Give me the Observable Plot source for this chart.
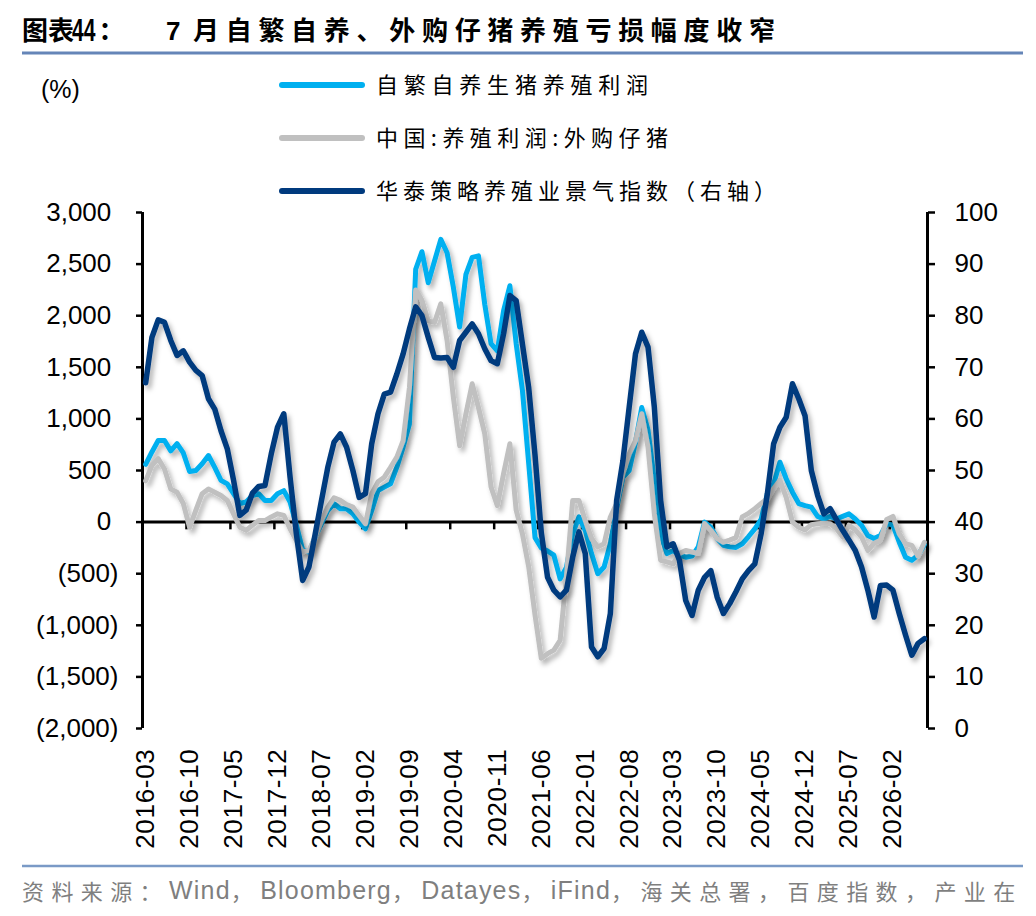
<!DOCTYPE html>
<html>
<head>
<meta charset="utf-8">
<script src="https://cdn.jsdelivr.net/npm/d3@7"></script>
<script src="https://cdn.jsdelivr.net/npm/@observablehq/plot@0.6"></script>
<style>
  html, body { margin: 0; padding: 0; background: #fff; }
  #page { position: relative; width: 1036px; height: 916px; overflow: hidden; background: #fff; }
  #page > * { position: absolute; left: 0; }
  .cjk { font-family: "Noto Sans CJK SC", "Noto Sans", sans-serif; }
  .lat { font-family: "Liberation Sans", Arial, sans-serif; }
  .sp { letter-spacing: 7.4px; }
  .lsp { letter-spacing: 1.2px; }
  #chart g[aria-label="x-axis tick label"] text { letter-spacing: 0.7px; }
</style>
</head>
<body>
<div id="page">
  <svg id="header" width="1036" height="220" style="top:0">
    <g font-weight="700" fill="#000">
      <text class="cjk" x="22" y="40" font-size="26">图表</text>
      <text class="lat" font-size="31" transform="translate(72,41) scale(0.68,1)">44</text>
      <text class="cjk" x="98.5" y="40" font-size="26">：</text>
      <text class="lat" x="166" y="40" font-size="26">7</text>
      <text class="cjk" x="193" y="40" font-size="26" textLength="582" lengthAdjust="spacing">月自繁自养、外购仔猪养殖亏损幅度收窄</text>
    </g>
    <line x1="22" x2="1023" y1="53" y2="53" stroke="#6585b8" stroke-width="3"></line>
    <text x="41" y="98" font-size="25" class="lat" fill="#000">(%)</text>
    <g id="legend"></g>
  </svg>
  <div id="chart" style="top:190px"></div>
  <svg id="footer" width="1036" height="58" style="top:858px">
    <line x1="22" x2="1023" y1="8" y2="8" stroke="#7a9ac6" stroke-width="2.5"></line>
    <text x="22" y="32" dominant-baseline="central" fill="#7f7f7f" font-size="22" class="cjk"><tspan class="sp">资料来源：</tspan><tspan class="lat lsp" font-size="25">Wind</tspan><tspan class="sp">，</tspan><tspan class="lat lsp" font-size="25">Bloomberg</tspan><tspan class="sp">，</tspan><tspan class="lat lsp" font-size="25">Datayes</tspan><tspan class="sp">，</tspan><tspan class="lat lsp" font-size="25">iFind</tspan><tspan class="sp">，海关总署，百度指数，产业在</tspan></text>
  </svg>
</div>
<script>
// ---- data (monthly, 2016-03 .. 2026-07) ----
const months = d3.utcMonth
  .range(new Date(Date.UTC(2016, 2, 1)), new Date(Date.UTC(2026, 7, 1)))
  .map(d3.utcFormat("%Y-%m"));

// 自繁自养生猪养殖利润 (left axis, 元/头)
const selfBredProfit = [
  560, 680, 790, 790, 690, 760, 670, 490, 500, 565, 645, 530, 405, 370, 275, 180, 195, 258, 275, 210,
  210, 275, 305, 195, -30, -270, -290, -145, -16, 113, 178, 130, 130, 81, 0, -65, 113, 307, 339, 371,
  532, 726, 950, 2450, 2620, 2320, 2530, 2740, 2610, 2275, 1890, 2400, 2565, 2580, 2110, 1730, 1660, 2050, 2290, 1730,
  1275, 565, -150, -250, -280, -320, -550, -440, -115, 50, -80, -305, -500, -435, -210, 130, 435, 500, 775, 1110,
  890, 405, -115, -305, -275, -320, -340, -330, -240, 0, -50, -160, -225, -240, -245, -210, -140, -65, 25, 275,
  370, 580, 420, 290, 180, 160, 145, 55, 30, 55, 30, 55, 80, 30, -30, -130, -160, -130, -15, -30,
  -195, -340, -370, -320, -220
];

// 中国:养殖利润:外购仔猪 (left axis)
const purchasedPigletProfit = [
  400, 550, 615, 515, 320, 290, 180, -50, 115, 275, 320, 290, 258, 210, 80, -50, -80, -30, 15, 15,
  50, 80, 65, -65, -180, -290, -275, -145, 15, 145, 235, 210, 170, 145, 65, -15, 275, 390, 435, 530,
  630, 790, 1300, 2250, 2150, 1950, 1935, 2115, 1760, 1210, 740, 1050, 1340, 1110, 855, 340, 160, 470, 760, 115,
  -115, -435, -900, -1320, -1275, -1240, -1145, -530, 210, 210, 15, -160, -240, -210, 50, 180, 470, 660, 790, 1050,
  725, 80, -370, -385, -405, -305, -275, -290, -305, -15, -80, -160, -195, -175, -150, 50, 85, 130, 180, 225,
  325, 405, 240, 0, -50, -75, -25, -15, -10, -15, -65, -145, -30, -75, -145, -275, -205, -175, 25, 55,
  -115, -210, -225, -330, -195
];

// 华泰策略养殖业景气指数 (right axis)
const prosperityIndex = [
  67.0, 75.8, 79.2, 78.7, 75.2, 72.3, 73.2, 71.0, 69.4, 68.4, 63.9, 61.9, 57.7, 54.2, 48.1, 41.3, 42.3, 45.6, 46.9, 47.1,
  53.2, 58.4, 61.0, 48.7, 37.7, 28.7, 31.3, 37.7, 44.2, 50.6, 55.5, 57.1, 54.5, 50.0, 44.8, 45.5, 55.2, 61.0, 64.8, 65.2,
  68.7, 72.6, 77.4, 81.7, 80.0, 75.8, 71.9, 71.8, 71.9, 70.0, 75.2, 76.8, 78.4, 76.5, 73.6, 71.3, 70.7, 76.5, 83.9, 82.9,
  74.5, 66.0, 53.0, 38.0, 29.3, 26.8, 25.5, 26.8, 33.2, 38.1, 33.9, 15.8, 13.9, 15.5, 22.3, 44.2, 51.9, 62.3, 72.6, 76.8,
  73.9, 62.3, 44.2, 35.2, 35.8, 32.6, 24.8, 21.9, 26.8, 29.3, 30.6, 25.5, 22.3, 24.2, 26.5, 29.0, 30.6, 31.9, 37.7, 45.5,
  55.2, 58.4, 60.3, 66.8, 63.9, 60.6, 50.0, 45.2, 41.6, 42.6, 40.5, 38.4, 36.5, 34.5, 31.3, 26.8, 21.6, 27.7, 27.8, 26.8,
  22.3, 18.1, 14.2, 16.5, 17.4
];

const tickLabels = ["2016-03","2016-10","2017-05","2017-12","2018-07","2019-02","2019-09","2020-04","2020-11",
  "2021-06","2022-01","2022-08","2023-03","2023-10","2024-05","2024-12","2025-07","2026-02"];
const leftTicks = [-2000, -1500, -1000, -500, 0, 500, 1000, 1500, 2000, 2500, 3000];
const rightTicks = [0, 10, 20, 30, 40, 50, 60, 70, 80, 90, 100];

const seriesNames = ["自繁自养生猪养殖利润", "中国:养殖利润:外购仔猪", "华泰策略养殖业景气指数（右轴）"];
const seriesColors = ["#00b0f0", "#c0c0c0", "#003a7e"];

// ---- build ----
const rows = months.map((m, i) => ({
  i, m,
  a: selfBredProfit[i],
  b: purchasedPigletProfit[i],
  c: prosperityIndex[i]
}));

// right axis 0..100 is aligned with left axis -2000..3000
const rightToLeft = v => (v - 40) * 50;
const leftToRight = v => v / 50 + 40;

const labelIdx = tickLabels.map(t => months.indexOf(t));
const boundaryIdx = labelIdx.map(i => i + 6.5).filter(v => v < months.length - 0.5);

const fmt = d3.format(",");
const leftFmt = d => d < 0 ? `(${fmt(-d)})` : `${fmt(d)}\u2008`;

const chart = Plot.plot({
  width: 1036,
  height: 668,
  marginTop: 22,
  marginBottom: 130,
  marginLeft: 142,
  marginRight: 109,
  style: {
    fontFamily: "Liberation Sans, Arial, sans-serif",
    fontSize: "26px",
    color: "#000",
    background: "transparent",
    overflow: "visible"
  },
  x: { type: "linear", domain: [-0.5, months.length - 0.5], label: null },
  y: { domain: [-2000, 3000], label: null },
  marks: [
    Plot.axisY({ anchor: "left", label: null, ticks: leftTicks, tickSize: 6, tickPadding: 18, tickFormat: leftFmt, strokeWidth: 2.5 }),
    Plot.axisY({ anchor: "right", label: null, ticks: rightTicks.map(rightToLeft), tickSize: 7, tickPadding: 20,
                 tickFormat: d => String(Math.round(leftToRight(d))), strokeWidth: 2.5 }),
    Plot.axisX({ label: null, ticks: labelIdx, tickFormat: i => months[i], tickRotate: -90, tickSize: 0, tickPadding: 20 }),
    Plot.ruleX([-0.5], { stroke: "#000", strokeWidth: 3 }),
    Plot.ruleX([months.length - 0.5], { stroke: "#000", strokeWidth: 3 }),
    Plot.ruleX(boundaryIdx, { y1: 0, y2: -75, stroke: "#000", strokeWidth: 2.5 }),
    Plot.ruleY([0], { stroke: "#000", strokeWidth: 3 }),
    Plot.line(rows, { x: "i", y: "a", stroke: seriesColors[0], strokeWidth: 5, strokeLinejoin: "round", strokeLinecap: "round" }),
    Plot.line(rows, { x: "i", y: "b", stroke: seriesColors[1], strokeWidth: 5, strokeLinejoin: "round", strokeLinecap: "round" }),
    Plot.line(rows, { x: "i", y: d => rightToLeft(d.c), stroke: seriesColors[2], strokeWidth: 5.5, strokeLinejoin: "round", strokeLinecap: "round" })
  ]
});
document.getElementById("chart").appendChild(chart);

// soft drop shadow on the series lines
const svg = d3.select(chart);
const defs = svg.insert("defs", ":first-child");
const f = defs.append("filter").attr("id", "lineShadow").attr("x", "-5%").attr("y", "-5%").attr("width", "115%").attr("height", "115%");
f.append("feDropShadow").attr("dx", 3).attr("dy", 4).attr("stdDeviation", 2.5)
  .attr("flood-color", "#000").attr("flood-opacity", 0.3);
svg.selectAll('g[aria-label="line"]').attr("filter", "url(#lineShadow)");

// legend
const lg = d3.select("#legend");
const legendY = [85, 138, 191];
const legendLen = [272, 292, 400];
seriesNames.forEach((name, k) => {
  lg.append("line").attr("x1", 282).attr("x2", 362).attr("y1", legendY[k]).attr("y2", legendY[k])
    .attr("stroke", seriesColors[k]).attr("stroke-width", 6).attr("stroke-linecap", "round");
  lg.append("text").attr("class", "cjk").attr("x", 376).attr("y", legendY[k]).attr("dy", "0.35em")
    .attr("font-size", 22).attr("fill", "#000")
    .attr("textLength", legendLen[k]).attr("lengthAdjust", "spacing").text(name);
});
</script>
</body>
</html>
